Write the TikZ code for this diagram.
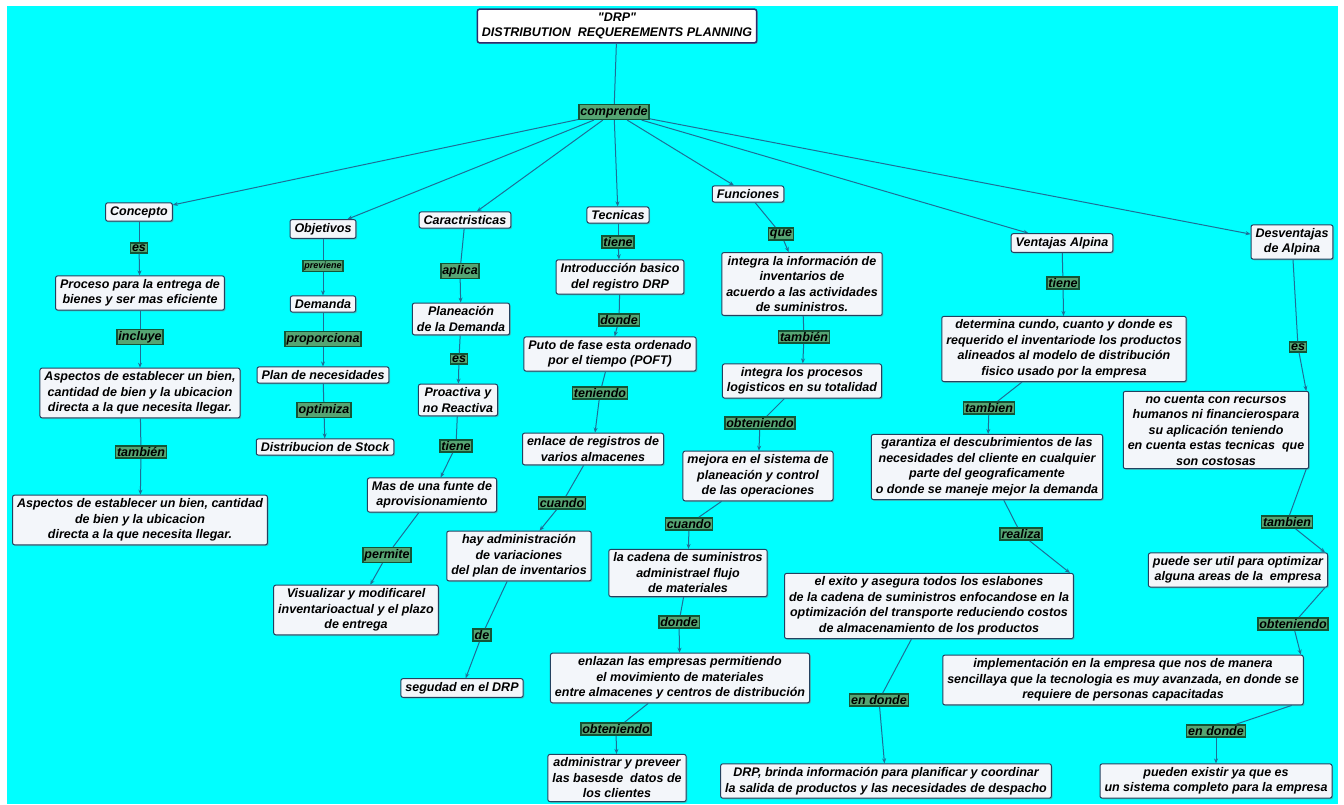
\documentclass[tikz,border=0pt]{standalone}
\usepackage{fontspec}
\setmainfont{Liberation Sans}
\usetikzlibrary{arrows.meta}
\usetikzlibrary{shadows}
\definecolor{bgcyan}{RGB}{0,255,255}
\definecolor{boxfill}{RGB}{243,246,250}
\definecolor{boxline}{RGB}{35,65,95}
\definecolor{wirecol}{RGB}{30,110,150}
\definecolor{linkfill}{RGB}{85,165,115}
\definecolor{linkline}{RGB}{20,85,55}
\definecolor{titleline}{RGB}{45,45,110}

\begin{document}
\begin{tikzpicture}[x=1pt,y=-1pt,>={Stealth[length=5pt,width=4pt]},
  concept/.style={draw=boxline,fill=boxfill,line width=1pt,rounded corners=2pt,
    align=center,inner xsep=4.5pt,inner ysep=3.5pt,
    font=\fontsize{12.5}{15.5}\selectfont\bfseries\itshape,
    drop shadow={shadow xshift=1.2pt,shadow yshift=-1.2pt,opacity=0.45}},
  linkw/.style={draw=linkline,fill=linkfill,line width=1.5pt,inner sep=1.5pt,
    font=\fontsize{12.5}{15.5}\selectfont\bfseries\itshape},
  wire/.style={draw=wirecol,line width=1pt}]
\useasboundingbox (0,0) rectangle (1344,804);
\fill[white] (0,0) rectangle (1344,804);
\fill[bgcyan] (7,6) rectangle (1338,804);
% title
\node[concept,draw=titleline,line width=1.5pt,fill=white] (title) at (617,26) {\textquotedbl DRP\textquotedbl\\DISTRIBUTION\ \ REQUEREMENTS PLANNING};
\node[linkw] (comprende) at (614,112) {comprende};
% Concepto
\node[concept] (concepto) at (139,212) {Concepto};
\node[linkw] (es1) at (139,248) {es};
\node[concept] (proceso) at (140,293) {Proceso para la entrega de\\bienes y ser mas eficiente};
\node[linkw] (incluye) at (140,337) {incluye};
\node[concept] (aspectos1) at (140,393) {Aspectos de establecer un bien,\\cantidad de bien y la ubicacion\\directa a la que necesita llegar.};
\node[linkw] (tambien1) at (141,452) {también};
\node[concept] (aspectos2) at (140,520) {Aspectos de establecer un bien, cantidad\\de bien y la ubicacion\\directa a la que necesita llegar.};
% Objetivos
\node[concept] (objetivos) at (323,229) {Objetivos};
\node[linkw,font=\fontsize{9}{11}\selectfont\bfseries\itshape] (previene) at (323,266) {previene};
\node[concept] (demanda) at (323,304) {Demanda};
\node[linkw] (proporciona) at (323,339) {proporciona};
\node[concept] (plan) at (323,375) {Plan de necesidades};
\node[linkw] (optimiza) at (324,410) {optimiza};
\node[concept] (stock) at (325,447) {Distribucion de Stock};
% Caractristicas
\node[concept] (caract) at (465,220) {Caractristicas};
\node[linkw] (aplica) at (460,271) {aplica};
\node[concept] (planeacion) at (461,319) {Planeación\\de la Demanda};
\node[linkw] (es2) at (459,359) {es};
\node[concept] (proactiva) at (458,400) {Proactiva y\\no Reactiva};
\node[linkw] (tiene1) at (456,446) {tiene};
\node[concept] (fuente) at (432,495) {Mas de una funte de\\aprovisionamiento};
\node[linkw] (permite) at (387,555) {permite};
\node[concept] (visualizar) at (356,610) {Visualizar y modificarel\\inventarioactual y el plazo\\de entrega};
% Tecnicas
\node[concept] (tecnicas) at (618,215) {Tecnicas};
\node[linkw] (tiene2) at (618,242) {tiene};
\node[concept] (intro) at (620,277) {Introducción basico\\del registro DRP};
\node[linkw] (donde1) at (619,320) {donde};
\node[concept] (puto) at (610,354) {Puto de fase esta ordenado\\por el tiempo (POFT)};
\node[linkw] (teniendo) at (600,393) {teniendo};
\node[concept] (enlace) at (593,449) {enlace de registros de\\varios almacenes};
\node[linkw] (cuando1) at (562,503) {cuando};
\node[concept] (hayadm) at (519,556) {hay administración\\de variaciones\\del plan de inventarios};
\node[linkw] (de) at (482,635) {de};
\node[concept] (segudad) at (462,688) {segudad en el DRP};
% Funciones
\node[concept] (funciones) at (748,194) {Funciones};
\node[linkw] (que) at (781,234) {que};
\node[concept] (integra) at (802,284) {integra la información de\\inventarios de\\acuerdo a las actividades\\de suministros.};
\node[linkw] (tambien2) at (804,337) {también};
\node[concept] (procesos) at (802,381) {integra los procesos\\logisticos en su totalidad};
\node[linkw] (obteniendo1) at (760,423) {obteniendo};
\node[concept] (mejora) at (758,476) {mejora en el sistema de\\planeación y control\\de las operaciones};
\node[linkw] (cuando2) at (689,524) {cuando};
\node[concept] (cadena) at (688,573) {la cadena de suministros\\administrael flujo\\de materiales};
\node[linkw] (donde2) at (679,622) {donde};
\node[concept] (enlazan) at (680,678) {enlazan las empresas permitiendo\\el movimiento de materiales\\entre almacenes y centros de distribución};
\node[linkw] (obteniendo2) at (616,729) {obteniendo};
\node[concept] (administrar) at (617,778) {administrar y preveer\\las basesde\ \ datos de\\los clientes};
% Ventajas Alpina
\node[concept] (ventajas) at (1062,243) {Ventajas Alpina};
\node[linkw] (tiene3) at (1063,283) {tiene};
\node[concept] (determina) at (1064,349) {determina cundo, cuanto y donde es\\requerido el inventariode los productos\\alineados al modelo de distribución\\fisico usado por la empresa};
\node[linkw] (tambien3) at (989,408) {tambien};
\node[concept] (garantiza) at (987,467) {garantiza el descubrimientos de las\\necesidades del cliente en cualquier\\parte del geograficamente\\o donde se maneje mejor la demanda};
\node[linkw] (realiza) at (1021,534) {realiza};
\node[concept] (exito) at (929,606) {el exito y asegura todos los eslabones\\de la cadena de suministros enfocandose en la\\optimización del transporte reduciendo costos\\de almacenamiento de los productos};
\node[linkw] (endonde1) at (879,700) {en donde};
\node[concept] (brinda) at (886,781) {DRP, brinda información para planificar y coordinar\\la salida de productos y las necesidades de despacho};
% Desventajas de Alpina
\node[concept] (desv) at (1292,242) {Desventajas\\de Alpina};
\node[linkw] (es3) at (1298,347) {es};
\node[concept] (nocuenta) at (1216,430) {no cuenta con recursos\\humanos ni financierospara\\su aplicación teniendo\\en cuenta estas tecnicas\ \ que\\son costosas};
\node[linkw] (tambien4) at (1287,522) {tambien};
\node[concept] (puede) at (1238,570) {puede ser util para optimizar\\alguna areas de la\ \ empresa};
\node[linkw] (obteniendo3) at (1293,624) {obteniendo};
\node[concept] (implementa) at (1123,680) {implementación en la empresa que nos de manera\\sencillaya que la tecnologia es muy avanzada, en donde se\\requiere de personas capacitadas};
\node[linkw] (endonde2) at (1216,731) {en donde};
\node[concept] (existir) at (1216,781) {pueden existir ya que es\\un sistema completo para la empresa};
% top links
\draw[wire] (title) -- (comprende);
\draw[wire,->] (comprende) -- (concepto);
\draw[wire,->] (comprende) -- (objetivos);
\draw[wire,->] (comprende) -- (caract);
\draw[wire,->] (comprende) -- (tecnicas);
\draw[wire,->] (comprende) -- (funciones);
\draw[wire,->] (comprende) -- (ventajas);
\draw[wire,->] (comprende) -- (desv);
% Concepto links
\draw[wire] (concepto) -- (es1);
\draw[wire,->] (es1) -- (proceso);
\draw[wire] (proceso) -- (incluye);
\draw[wire,->] (incluye) -- (aspectos1);
\draw[wire] (aspectos1) -- (tambien1);
\draw[wire,->] (tambien1) -- (aspectos2);
% Objetivos links
\draw[wire] (objetivos) -- (previene);
\draw[wire,->] (previene) -- (demanda);
\draw[wire] (demanda) -- (proporciona);
\draw[wire,->] (proporciona) -- (plan);
\draw[wire] (plan) -- (optimiza);
\draw[wire,->] (optimiza) -- (stock);
% Caractristicas links
\draw[wire] (caract) -- (aplica);
\draw[wire,->] (aplica) -- (planeacion);
\draw[wire] (planeacion) -- (es2);
\draw[wire,->] (es2) -- (proactiva);
\draw[wire] (proactiva) -- (tiene1);
\draw[wire,->] (tiene1) -- (fuente);
\draw[wire] (fuente) -- (permite);
\draw[wire,->] (permite) -- (visualizar);
% Tecnicas links
\draw[wire] (tecnicas) -- (tiene2);
\draw[wire,->] (tiene2) -- (intro);
\draw[wire] (intro) -- (donde1);
\draw[wire,->] (donde1) -- (puto);
\draw[wire] (puto) -- (teniendo);
\draw[wire,->] (teniendo) -- (enlace);
\draw[wire] (enlace) -- (cuando1);
\draw[wire,->] (cuando1) -- (hayadm);
\draw[wire] (hayadm) -- (de);
\draw[wire,->] (de) -- (segudad);
% Funciones links
\draw[wire] (funciones) -- (que);
\draw[wire,->] (que) -- (integra);
\draw[wire] (integra) -- (tambien2);
\draw[wire,->] (tambien2) -- (procesos);
\draw[wire] (procesos) -- (obteniendo1);
\draw[wire,->] (obteniendo1) -- (mejora);
\draw[wire] (mejora) -- (cuando2);
\draw[wire,->] (cuando2) -- (cadena);
\draw[wire] (cadena) -- (donde2);
\draw[wire,->] (donde2) -- (enlazan);
\draw[wire] (enlazan) -- (obteniendo2);
\draw[wire,->] (obteniendo2) -- (administrar);
% Ventajas links
\draw[wire] (ventajas) -- (tiene3);
\draw[wire,->] (tiene3) -- (determina);
\draw[wire] (determina) -- (tambien3);
\draw[wire,->] (tambien3) -- (garantiza);
\draw[wire] (garantiza) -- (realiza);
\draw[wire,->] (realiza) -- ([xshift=-4pt]exito.north east);
\draw[wire] (exito) -- (endonde1);
\draw[wire,->] (endonde1) -- (brinda);
% Desventajas links
\draw[wire] (desv) -- (es3);
\draw[wire,->] (es3) -- ([xshift=-3pt]nocuenta.north east);
\draw[wire] ([xshift=-3pt]nocuenta.south east) -- (tambien4);
\draw[wire,->] (tambien4) -- ([xshift=-3pt]puede.north east);
\draw[wire] ([xshift=-3pt]puede.south east) -- (obteniendo3);
\draw[wire,->] (obteniendo3) -- ([xshift=-3pt]implementa.north east);
\draw[wire] ([xshift=-12pt]implementa.south east) -- (endonde2);
\draw[wire,->] (endonde2) -- (existir);
\end{tikzpicture}
\end{document}
